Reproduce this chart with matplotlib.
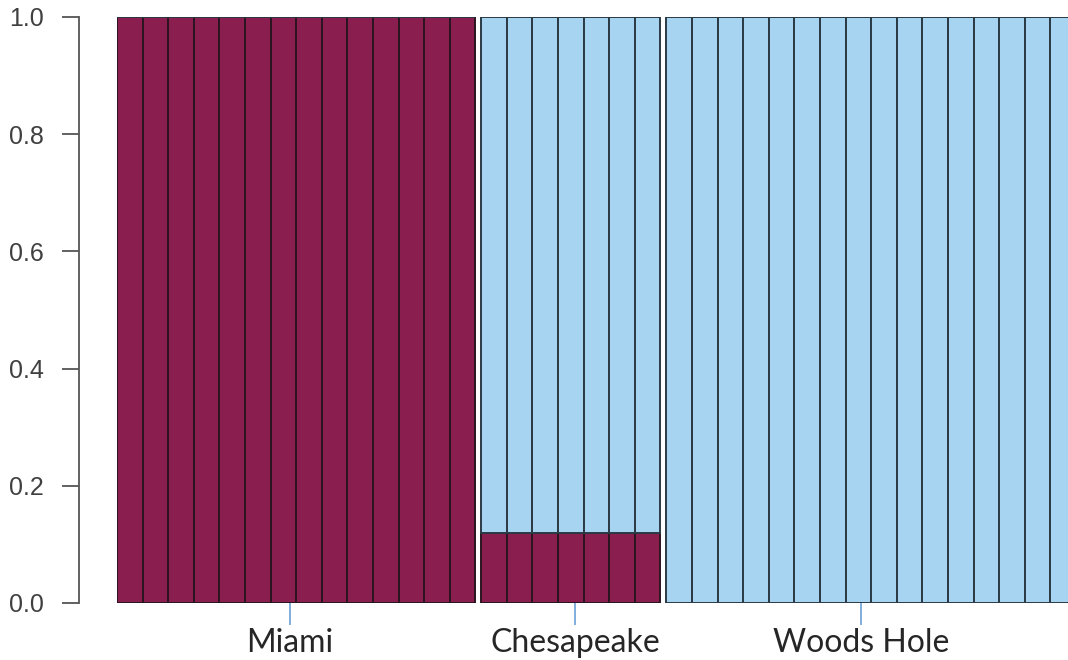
import numpy as np
import matplotlib
matplotlib.use('Agg')
import matplotlib.pyplot as plt

# membership proportions per individual (Miami cluster share)
groups = ['Miami', 'Chesapeake', 'Woods Hole']
miami_share = [
    [1.0] * 14,
    [0.12] * 7,
    [0.0] * 16,
]
label_pos = [6.76, 17.89, 29.06]

col_miami = '#8a1f4f'
col_blue = '#a6d4f1'
gap = 0.23

fig = plt.figure(figsize=(10.68, 6.6), dpi=100)
ax = fig.add_axes([117 / 1068, 57 / 660, 1 - 117 / 1068, 586 / 660])

x0 = 0.0
for shares in miami_share:
    s = np.array(shares)
    xs = x0 + np.arange(len(s))
    ax.bar(xs, s, width=1.0, align='edge', color=col_miami,
           edgecolor='#2b1420', linewidth=1.4, zorder=2)
    ax.bar(xs, 1 - s, bottom=s, width=1.0, align='edge', color=col_blue,
           edgecolor='#2b3a44', linewidth=1.4, zorder=2)
    x0 += len(s) + gap

ax.set_xlim(0, (1068 - 117) / 25.6)
ax.set_ylim(0, 1)

for side in ['top', 'right', 'bottom']:
    ax.spines[side].set_visible(False)
ax.spines['left'].set_position(('outward', 27.4))
ax.spines['left'].set_bounds(0, 1)
ax.spines['left'].set_color('#555555')
ax.spines['left'].set_linewidth(1.3)

ax.set_yticks([0, 0.2, 0.4, 0.6, 0.8, 1.0])
ax.set_yticklabels(['0.0', '0.2', '0.4', '0.6', '0.8', '1.0'],
                   fontfamily='Liberation Sans', fontsize=18, color='#404040')
ax.tick_params(axis='y', length=12, width=1.3, color='#555555', pad=13)

ax.set_xticks(label_pos)
ax.set_xticklabels(groups, fontfamily='Lato', fontsize=23, color='#262626')
ax.tick_params(axis='x', length=16, width=1.2, color='#6a9fd4', pad=2)

fig.savefig('out.png', dpi=100)
